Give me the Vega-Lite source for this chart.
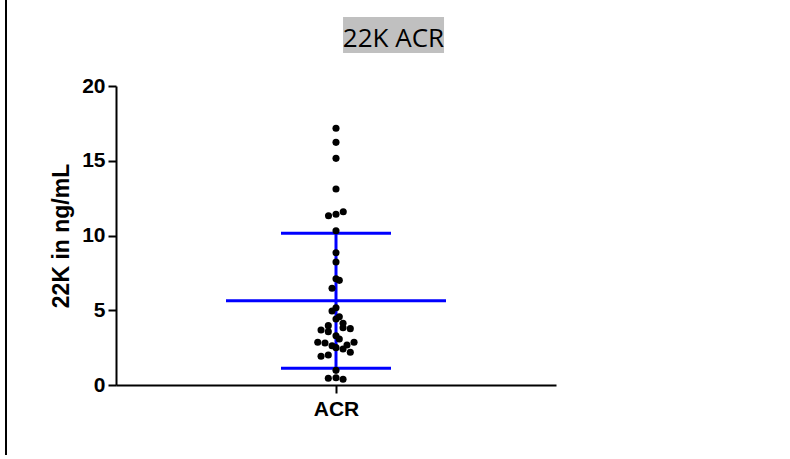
{
  "$schema": "https://vega.github.io/schema/vega-lite/v6.json",
  "autosize": {"type": "none"},
  "width": 440,
  "height": 299,
  "padding": {"left": 116, "top": 86, "right": 234, "bottom": 74},
  "background": "white",
  "config": {
    "view": {"stroke": null},
    "axis": {"domainColor": "black", "tickColor": "black", "labelColor": "black", "titleColor": "black", "grid": false}
  },
  "datasets": {
    "points": [
      {"group": "ACR", "x": 1.0, "value": 17.17},
      {"group": "ACR", "x": 1.0, "value": 16.23},
      {"group": "ACR", "x": 1.0, "value": 15.16},
      {"group": "ACR", "x": 1.0, "value": 13.11},
      {"group": "ACR", "x": 0.966, "value": 11.32},
      {"group": "ACR", "x": 1.0, "value": 11.42},
      {"group": "ACR", "x": 1.033, "value": 11.59},
      {"group": "ACR", "x": 1.0, "value": 10.32},
      {"group": "ACR", "x": 1.0, "value": 8.85},
      {"group": "ACR", "x": 1.0, "value": 8.23},
      {"group": "ACR", "x": 1.0, "value": 7.11},
      {"group": "ACR", "x": 1.015, "value": 7.0},
      {"group": "ACR", "x": 0.982, "value": 6.47},
      {"group": "ACR", "x": 1.0, "value": 5.17},
      {"group": "ACR", "x": 0.982, "value": 4.95},
      {"group": "ACR", "x": 1.015, "value": 4.57},
      {"group": "ACR", "x": 1.0, "value": 4.41},
      {"group": "ACR", "x": 1.032, "value": 4.13},
      {"group": "ACR", "x": 1.032, "value": 3.83},
      {"group": "ACR", "x": 1.065, "value": 3.77},
      {"group": "ACR", "x": 0.965, "value": 3.97},
      {"group": "ACR", "x": 0.932, "value": 3.68},
      {"group": "ACR", "x": 0.965, "value": 3.57},
      {"group": "ACR", "x": 1.0, "value": 3.3},
      {"group": "ACR", "x": 1.015, "value": 3.08},
      {"group": "ACR", "x": 0.917, "value": 2.86},
      {"group": "ACR", "x": 0.95, "value": 2.81},
      {"group": "ACR", "x": 1.082, "value": 2.86},
      {"group": "ACR", "x": 1.05, "value": 2.68},
      {"group": "ACR", "x": 0.982, "value": 2.63},
      {"group": "ACR", "x": 1.0, "value": 2.5},
      {"group": "ACR", "x": 1.032, "value": 2.41},
      {"group": "ACR", "x": 0.932, "value": 1.92},
      {"group": "ACR", "x": 0.965, "value": 2.01},
      {"group": "ACR", "x": 1.065, "value": 2.19},
      {"group": "ACR", "x": 1.0, "value": 0.98},
      {"group": "ACR", "x": 0.965, "value": 0.45},
      {"group": "ACR", "x": 1.0, "value": 0.49},
      {"group": "ACR", "x": 1.032, "value": 0.38}
    ],
    "summary": [
      {"group": "ACR", "mean": 5.63, "lower": 1.12, "upper": 10.15}
    ],
    "heading": [
      {"label": "22K ACR"}
    ]
  },
  "data": {"name": "points"},
  "encoding": {
    "x": {
      "type": "quantitative",
      "scale": {"domain": [0, 2], "nice": false, "zero": false},
      "axis": {
        "values": [1],
        "labelExpr": "'ACR'",
        "title": null,
        "domainWidth": 2,
        "tickWidth": 2,
        "tickSize": 8,
        "labelFont": "Liberation Sans",
        "labelFontWeight": "bold",
        "labelFontSize": 21,
        "labelPadding": 5
      }
    },
    "y": {
      "type": "quantitative",
      "scale": {"domain": [0, 20], "nice": false, "zero": true},
      "axis": {
        "values": [0, 5, 10, 15, 20],
        "title": "22K in ng/mL",
        "titleFont": "Liberation Sans",
        "titleFontWeight": "bold",
        "titleFontSize": 23,
        "titlePadding": 8,
        "domainWidth": 2,
        "tickWidth": 2,
        "tickSize": 8,
        "labelFont": "Liberation Sans",
        "labelFontWeight": "bold",
        "labelFontSize": 21,
        "labelPadding": 3
      }
    }
  },
  "layer": [
    {
      "data": {"name": "heading"},
      "mark": {"type": "rule", "color": "black", "strokeWidth": 2, "clip": false},
      "encoding": {
        "x": {"datum": -0.5, "type": "quantitative"},
        "y": {"datum": 25.75, "type": "quantitative"},
        "y2": {"datum": -4.68}
      }
    },
    {
      "data": {"name": "heading"},
      "mark": {"type": "rect", "color": "#c0c0c0", "clip": false},
      "encoding": {
        "x": {"datum": 1.032, "type": "quantitative"},
        "x2": {"datum": 1.491},
        "y": {"datum": 24.615, "type": "quantitative"},
        "y2": {"datum": 22.207}
      }
    },
    {
      "data": {"name": "heading"},
      "mark": {"type": "text", "font": "Open Sans", "fontSize": 26, "color": "black", "baseline": "alphabetic", "align": "center", "clip": false},
      "encoding": {
        "x": {"datum": 1.261, "type": "quantitative"},
        "y": {"datum": 22.63, "type": "quantitative"},
        "text": {"field": "label"}
      }
    },
    {
      "data": {"name": "summary"},
      "mark": {"type": "rule", "color": "#0000ff", "strokeWidth": 3},
      "encoding": {
        "x": {"datum": 0.5, "type": "quantitative"},
        "x2": {"datum": 1.5},
        "y": {"field": "mean", "type": "quantitative"}
      }
    },
    {
      "data": {"name": "summary"},
      "mark": {"type": "rule", "color": "#0000ff", "strokeWidth": 3},
      "encoding": {
        "x": {"datum": 0.75, "type": "quantitative"},
        "x2": {"datum": 1.25},
        "y": {"field": "upper", "type": "quantitative"}
      }
    },
    {
      "data": {"name": "summary"},
      "mark": {"type": "rule", "color": "#0000ff", "strokeWidth": 3},
      "encoding": {
        "x": {"datum": 0.75, "type": "quantitative"},
        "x2": {"datum": 1.25},
        "y": {"field": "lower", "type": "quantitative"}
      }
    },
    {
      "data": {"name": "summary"},
      "mark": {"type": "rule", "color": "#0000ff", "strokeWidth": 3},
      "encoding": {
        "x": {"datum": 1, "type": "quantitative"},
        "y": {"field": "lower", "type": "quantitative"},
        "y2": {"field": "upper"}
      }
    },
    {
      "mark": {"type": "circle", "color": "black", "opacity": 1, "size": 50},
      "encoding": {
        "x": {"field": "x", "type": "quantitative"},
        "y": {"field": "value", "type": "quantitative"}
      }
    }
  ]
}
